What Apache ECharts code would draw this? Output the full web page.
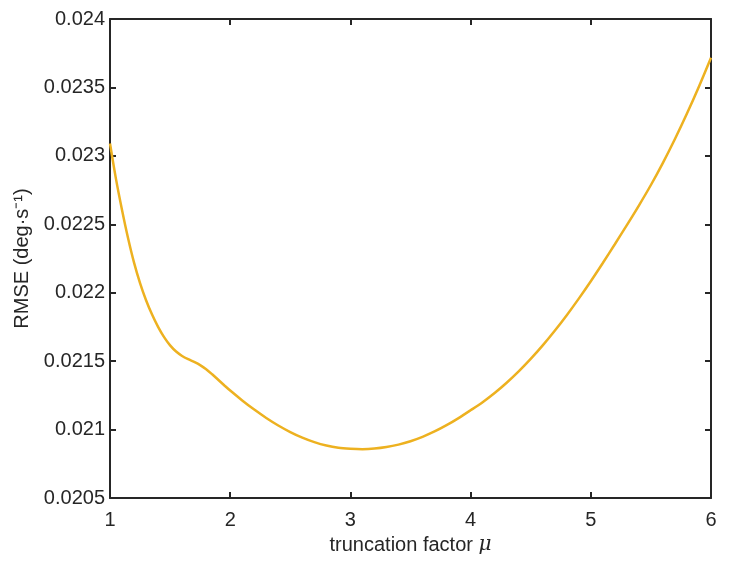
<!DOCTYPE html>
<html lang="en">
<head>
    <meta charset="UTF-8">
    <title>RMSE vs truncation factor</title>
    <style>
        * { margin: 0; padding: 0; }
        html, body { width: 100%; height: 100%; background: #fff; }
        #chart { width: 729px; height: 574px; }
    </style>
    <script src="https://cdnjs.cloudflare.com/ajax/libs/echarts/6.0.0/echarts.min.js"></script>
</head>
<body>
<div id="chart"></div>
<script>
    // truncation factor mu
    const muValues = [1.00, 1.05, 1.10, 1.15, 1.20, 1.25, 1.30, 1.35, 1.40, 1.45, 1.50, 1.55, 1.60,
        1.65, 1.70, 1.75, 1.80, 1.85, 1.90, 1.95, 2.0, 2.1, 2.2, 2.3, 2.4, 2.5, 2.6, 2.7, 2.8, 2.9,
        3.0, 3.1, 3.2, 3.3, 3.4, 3.5, 3.6, 3.7, 3.8, 3.9, 4.0, 4.1, 4.2, 4.3, 4.4, 4.5, 4.6, 4.7,
        4.8, 4.9, 5.0, 5.1, 5.2, 5.3, 5.4, 5.5, 5.6, 5.7, 5.8, 5.9, 6.0]
    // RMSE (deg/s)
    const rmseValues = [0.023090, 0.022830, 0.022605, 0.022400, 0.022220, 0.022070, 0.021945,
        0.021840, 0.021750, 0.021675, 0.021615, 0.021570, 0.021538, 0.021514, 0.021494, 0.021471,
        0.021441, 0.021404, 0.021364, 0.021324, 0.021285, 0.021213, 0.021146, 0.021085, 0.021030,
        0.020982, 0.020941, 0.020908, 0.020883, 0.020867, 0.020860, 0.020857, 0.020861, 0.020872,
        0.020890, 0.020915, 0.020947, 0.020986, 0.021032, 0.021084, 0.021141, 0.021200, 0.021267,
        0.021342, 0.021425, 0.021516, 0.021615, 0.021722, 0.021836, 0.021957, 0.022084, 0.022217,
        0.022354, 0.022494, 0.022637, 0.022787, 0.022949, 0.023123, 0.023309, 0.023507, 0.023717]

    const xTicks = [1, 2, 3, 4, 5, 6]
    const yTicks = [0.0205, 0.021, 0.0215, 0.022, 0.0225, 0.023, 0.0235, 0.024]

    const font = 'Liberation Sans, Arial, sans-serif'
    const axisColor = '#262626'

    let chart = echarts.init(document.getElementById('chart'))

    let lineStyle = {color: axisColor, width: 2}
    let tickStyle = {show: true, inside: true, length: 6, lineStyle: {color: axisColor, width: 2}}

    let option = {
        animation: false,
        grid: {left: 110, right: 18, top: 19, bottom: 76},
        xAxis: [
            {
                type: 'value',
                min: xTicks[0],
                max: xTicks[xTicks.length - 1],
                interval: 1,
                axisLine: {lineStyle: lineStyle},
                axisTick: tickStyle,
                splitLine: {show: false},
                axisLabel: {color: axisColor, fontSize: 20, fontFamily: font, margin: 12},
                name: '{a|truncation factor }{b|μ}',
                nameLocation: 'middle',
                nameGap: 37,
                nameTextStyle: {
                    rich: {
                        a: {color: axisColor, fontSize: 20, fontFamily: font},
                        b: {color: axisColor, fontSize: 20, fontFamily: 'DejaVu Serif, serif', fontStyle: 'italic'}
                    }
                }
            },
            {
                type: 'value',
                position: 'top',
                min: xTicks[0],
                max: xTicks[xTicks.length - 1],
                interval: 1,
                axisLine: {show: true, lineStyle: lineStyle},
                axisTick: tickStyle,
                axisLabel: {show: false},
                splitLine: {show: false}
            }
        ],
        yAxis: [
            {
                type: 'value',
                min: yTicks[0],
                max: yTicks[yTicks.length - 1],
                interval: 0.0005,
                axisLine: {show: true, lineStyle: lineStyle},
                axisTick: tickStyle,
                splitLine: {show: false},
                axisLabel: {
                    color: axisColor, fontSize: 20, fontFamily: font, margin: 5,
                    formatter: v => parseFloat(v.toFixed(5)).toString()
                },
                name: 'RMSE (deg·s⁻¹)',
                nameLocation: 'middle',
                nameGap: 78,
                nameTextStyle: {color: axisColor, fontSize: 20, fontFamily: font}
            },
            {
                type: 'value',
                position: 'right',
                min: yTicks[0],
                max: yTicks[yTicks.length - 1],
                interval: 0.0005,
                axisLine: {show: true, lineStyle: lineStyle},
                axisTick: tickStyle,
                axisLabel: {show: false},
                splitLine: {show: false}
            }
        ],
        series: [
            {
                type: 'line',
                data: muValues.map((m, i) => [m, rmseValues[i]]),
                smooth: 0.3,
                showSymbol: false,
                lineStyle: {color: '#EDB120', width: 2.5}
            }
        ]
    }
    chart.setOption(option)
</script>
</body>
</html>
